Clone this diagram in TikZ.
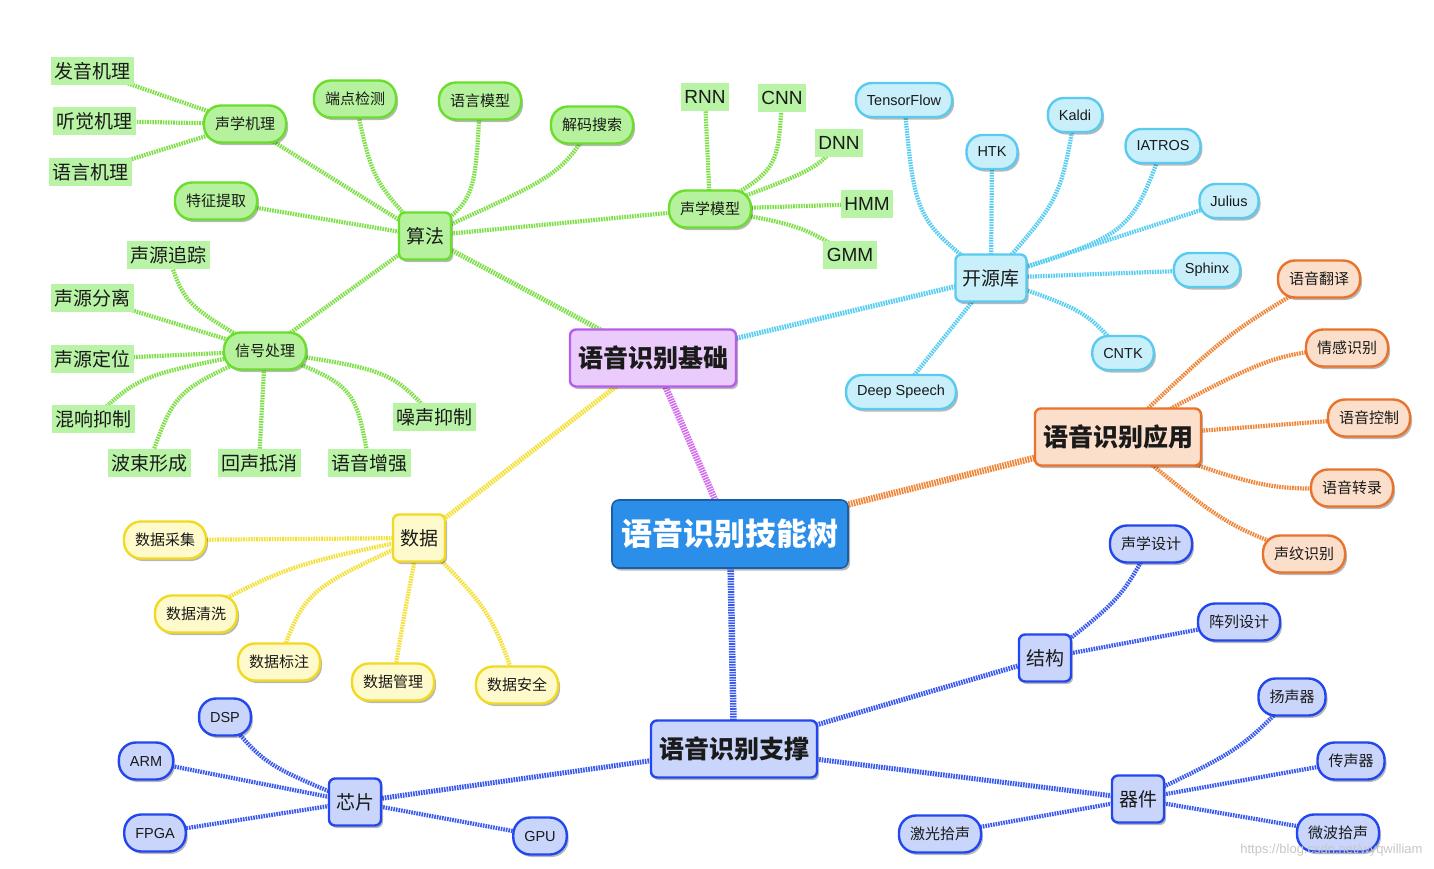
\documentclass[tikz,border=0pt]{standalone}
\usepackage{fontspec}
\setmainfont{Liberation Sans}
\newfontfamily\cjk{Noto Sans CJK SC}
\usetikzlibrary{shadows}
\definecolor{gF}{HTML}{B6F29E}
\definecolor{gD}{HTML}{6BDD2C}
\definecolor{gL}{HTML}{B9F3A6}
\definecolor{gE}{HTML}{7EDF48}
\definecolor{cF}{HTML}{C9EFFB}
\definecolor{cD}{HTML}{5ACBF0}
\definecolor{cE}{HTML}{58CDF2}
\definecolor{oF}{HTML}{FBDFCA}
\definecolor{oD}{HTML}{E9732C}
\definecolor{oE}{HTML}{F08536}
\definecolor{yF}{HTML}{FEFACB}
\definecolor{yD}{HTML}{F2DA22}
\definecolor{yE}{HTML}{F5E034}
\definecolor{bF}{HTML}{C9D5FA}
\definecolor{bD}{HTML}{2347EE}
\definecolor{bE}{HTML}{3858F0}
\definecolor{pF}{HTML}{EBCBFB}
\definecolor{pD}{HTML}{B65EEA}
\definecolor{pE}{HTML}{D46CF0}
\definecolor{rF}{HTML}{2B8FEA}
\definecolor{rD}{HTML}{1B5EA6}
\definecolor{txt}{HTML}{1A1A1A}
\pgfdeclarelayer{back}\pgfdeclarelayer{edges}\pgfsetlayers{back,edges,main}
\tikzset{
 shd/.style={drop shadow={shadow xshift=2pt,shadow yshift=-2.5pt,opacity=0.28,fill=black}},
 pill/.style={rectangle,rounded corners=17pt,line width=2.4pt,minimum height=37pt,inner xsep=11pt,inner ysep=0pt,text=txt,shd},
 zh/.style={font=\cjk\fontsize{15}{17}\selectfont},
 en/.style={font=\fontsize{14.5}{16}\selectfont},
 gp/.style={pill,fill=gF,draw=gD,zh},
 cp/.style={pill,fill=cF,draw=cD,en,minimum height=34pt,rounded corners=16pt},
 op/.style={pill,fill=oF,draw=oD,zh},
 yp/.style={pill,fill=yF,draw=yD,zh},
 bp/.style={pill,fill=bF,draw=bD,zh},
 bpe/.style={pill,fill=bF,draw=bD,en},
 leaf/.style={rectangle,fill=gL,inner xsep=3.5pt,inner ysep=0pt,minimum height=28pt,text=txt,font=\cjk\fontsize{19}{21}\selectfont},
 leafe/.style={leaf,font=\fontsize{19}{21}\selectfont},
 lvtwo/.style={rectangle,rounded corners=6pt,line width=2.4pt,minimum height=47pt,inner xsep=7pt,text=txt,font=\cjk\fontsize{19}{21}\selectfont,shd},
 lvone/.style={rectangle,rounded corners=6pt,line width=2.4pt,minimum height=57pt,inner xsep=8pt,text=txt,font=\cjk\bfseries\fontsize{25}{28}\selectfont,shd},
 rootbox/.style={rectangle,rounded corners=7pt,line width=1.6pt,minimum width=236pt,minimum height=68pt,fill=rF,draw=rD,text=white,font=\cjk\bfseries\fontsize{31}{34}\selectfont,shd},
 ed/.style={line width=4.2pt,dash pattern=on 1.6pt off 1.0pt},
 med/.style={line width=6.5pt,dash pattern=on 1.6pt off 1.0pt},
 sed/.style={line width=5pt,dash pattern=on 1.6pt off 1.0pt},
}
\begin{document}
\begin{tikzpicture}[x=1pt,y=-1pt]
\useasboundingbox (0,0) rectangle (1434,868);
\begin{pgfonlayer}{back}
\fill[white] (0,0) rectangle (1434,868);
\end{pgfonlayer}
% ---------- main nodes
\node[rootbox] (root) at (730,534) {语音识别技能树};
\node[lvone,fill=pF,draw=pD] (jc) at (653,358) {语音识别基础};
\node[lvone,fill=oF,draw=oD] (yy) at (1118,437) {语音识别应用};
\node[lvone,fill=bF,draw=bD] (zc) at (734,749) {语音识别支撑};
% ---------- level 2
\node[lvtwo,fill=gF,draw=gD] (sf) at (425,236) {算法};
\node[lvtwo,fill=cF,draw=cD] (kyk) at (991,278) {开源库};
\node[lvtwo,fill=yF,draw=yD] (sj) at (419,538) {数据};
\node[lvtwo,fill=bF,draw=bD] (jg) at (1045,658) {结构};
\node[lvtwo,fill=bF,draw=bD] (qj) at (1138,799) {器件};
\node[lvtwo,fill=bF,draw=bD] (xp) at (355,802) {芯片};
% ---------- green pills
\node[gp] (sxjl) at (245,124) {声学机理};
\node[gp] (dd) at (355,99) {端点检测};
\node[gp] (yymx) at (480,101) {语言模型};
\node[gp] (jm) at (592,125) {解码搜索};
\node[gp] (tz) at (216,201) {特征提取};
\node[gp] (sxmx) at (710,209) {声学模型};
\node[gp] (xh) at (265,351) {信号处理};
% ---------- green leaves
\node[leaf] (fy) at (92,71) {发音机理};
\node[leaf] (tj) at (94,121) {听觉机理};
\node[leaf] (yj) at (90,172) {语言机理};
\node[leafe] (rnn) at (705,97) {RNN};
\node[leafe] (cnn) at (782,98) {CNN};
\node[leafe] (dnn) at (839,143) {DNN};
\node[leafe] (hmm) at (867,204) {HMM};
\node[leafe] (gmm) at (850,255) {GMM};
\node[leaf] (zz) at (168,255) {声源追踪};
\node[leaf] (fl) at (92,298) {声源分离};
\node[leaf] (dw) at (92,359) {声源定位};
\node[leaf] (hx) at (93,419) {混响抑制};
\node[leaf] (zs) at (434,417) {噪声抑制};
\node[leaf] (bs) at (149,463) {波束形成};
\node[leaf] (hs) at (259,463) {回声抵消};
\node[leaf] (zq) at (369,463) {语音增强};
% ---------- cyan
\node[cp] (tf) at (904,100) {TensorFlow};
\node[cp] (htk) at (992,152) {HTK};
\node[cp] (kaldi) at (1075,115) {Kaldi};
\node[cp] (iatros) at (1163,146) {IATROS};
\node[cp] (julius) at (1229,201) {Julius};
\node[cp] (sphinx) at (1207,270) {Sphinx};
\node[cp] (cntk) at (1123,353) {CNTK};
\node[cp] (ds) at (901,392) {Deep Speech};
% ---------- orange
\node[op] (fyi) at (1319,279) {语音翻译};
\node[op] (qg) at (1347,348) {情感识别};
\node[op] (kz) at (1369,418) {语音控制};
\node[op] (zl) at (1352,488) {语音转录};
\node[op] (sw) at (1304,554) {声纹识别};
% ---------- yellow
\node[yp] (cj) at (165,540) {数据采集};
\node[yp] (qx) at (196,614) {数据清洗};
\node[yp] (bz) at (279,662) {数据标注};
\node[yp] (gl) at (393,682) {数据管理};
\node[yp] (aq) at (517,685) {数据安全};
% ---------- blue
\node[bp] (sxsj) at (1151,544) {声学设计};
\node[bp] (zlsj) at (1239,622) {阵列设计};
\node[bp] (ysq) at (1292,697) {扬声器};
\node[bp] (csq) at (1351,761) {传声器};
\node[bp] (wb) at (1338,833) {微波拾声};
\node[bp] (jgs) at (940,834) {激光拾声};
\node[bpe] (dsp) at (225,717) {DSP};
\node[bpe] (arm) at (146,761) {ARM};
\node[bpe] (fpga) at (155,833) {FPGA};
\node[bpe] (gpu) at (540,836) {GPU};
% ---------- watermark url
\node[anchor=east,text=black!22,font=\fontsize{13}{15}\selectfont] (url) at (1426,850) {https://blog.csdn.net/wyqwilliam};
% ---------- edges
\begin{pgfonlayer}{edges}
\draw[med,pE] (root.center) -- (jc.center);
\draw[med,oE] (root.center) -- (yy.center);
\draw[med,bE] (root.center) -- (zc.center);
\draw[sed,gE] (jc.center) -- (sf.center);
\draw[sed,cE] (jc.center) -- (kyk.center);
\draw[sed,yE] (jc.center) -- (sj.center);
\draw[sed,bE] (zc.center) -- (jg.center);
\draw[sed,bE] (zc.center) -- (qj.center);
\draw[sed,bE] (zc.center) -- (xp.center);
% green
\draw[ed,gE] (sf.center) -- (sxjl.center);
\draw[ed,gE] (sf.center) .. controls (372,180) .. (dd.center);
\draw[ed,gE] (sf.center) .. controls (475,200) .. (yymx.center);
\draw[ed,gE] (sf.center) .. controls (560,175) .. (jm.center);
\draw[ed,gE] (sf.center) -- (tz.center);
\draw[ed,gE] (sf.center) -- (sxmx.center);
\draw[ed,gE] (sf.center) -- (xh.center);
\draw[ed,gE] (sxjl.center) -- (fy.center);
\draw[ed,gE] (sxjl.center) -- (tj.center);
\draw[ed,gE] (sxjl.center) -- (yj.center);
\draw[ed,gE] (sxmx.center) -- (rnn.center);
\draw[ed,gE] (sxmx.center) .. controls (778,170) .. (cnn.center);
\draw[ed,gE] (sxmx.center) .. controls (815,170) .. (dnn.center);
\draw[ed,gE] (sxmx.center) -- (hmm.center);
\draw[ed,gE] (sxmx.center) .. controls (800,225) .. (gmm.center);
\draw[ed,gE] (xh.center) .. controls (185,305) .. (zz.center);
\draw[ed,gE] (xh.center) -- (fl.center);
\draw[ed,gE] (xh.center) -- (dw.center);
\draw[ed,gE] (xh.center) .. controls (140,375) .. (hx.center);
\draw[ed,gE] (xh.center) .. controls (175,390) .. (bs.center);
\draw[ed,gE] (xh.center) -- (hs.center);
\draw[ed,gE] (xh.center) .. controls (355,385) .. (zq.center);
\draw[ed,gE] (xh.center) .. controls (390,370) .. (zs.center);
% cyan
\draw[ed,cE] (kyk.center) .. controls (915,220) .. (tf.center);
\draw[ed,cE] (kyk.center) -- (htk.center);
\draw[ed,cE] (kyk.center) .. controls (1060,200) .. (kaldi.center);
\draw[ed,cE] (kyk.center) .. controls (1130,235) .. (iatros.center);
\draw[ed,cE] (kyk.center) -- (julius.center);
\draw[ed,cE] (kyk.center) -- (sphinx.center);
\draw[ed,cE] (kyk.center) .. controls (1085,310) .. (cntk.center);
\draw[ed,cE] (kyk.center) -- (ds.center);
% orange
\draw[ed,oE] (yy.center) .. controls (1225,335) .. (fyi.center);
\draw[ed,oE] (yy.center) .. controls (1270,355) .. (qg.center);
\draw[ed,oE] (yy.center) -- (kz.center);
\draw[ed,oE] (yy.center) .. controls (1265,490) .. (zl.center);
\draw[ed,oE] (yy.center) .. controls (1225,525) .. (sw.center);
% yellow
\draw[ed,yE] (sj.center) -- (cj.center);
\draw[ed,yE] (sj.center) .. controls (290,565) .. (qx.center);
\draw[ed,yE] (sj.center) .. controls (305,590) .. (bz.center);
\draw[ed,yE] (sj.center) .. controls (405,610) .. (gl.center);
\draw[ed,yE] (sj.center) .. controls (490,610) .. (aq.center);
% blue
\draw[ed,bE] (jg.center) .. controls (1120,600) .. (sxsj.center);
\draw[ed,bE] (jg.center) -- (zlsj.center);
\draw[ed,bE] (qj.center) .. controls (1240,750) .. (ysq.center);
\draw[ed,bE] (qj.center) -- (csq.center);
\draw[ed,bE] (qj.center) -- (wb.center);
\draw[ed,bE] (qj.center) -- (jgs.center);
\draw[ed,bE] (xp.center) .. controls (265,765) .. (dsp.center);
\draw[ed,bE] (xp.center) -- (arm.center);
\draw[ed,bE] (xp.center) -- (fpga.center);
\draw[ed,bE] (xp.center) -- (gpu.center);
\end{pgfonlayer}
\end{tikzpicture}
\end{document}
